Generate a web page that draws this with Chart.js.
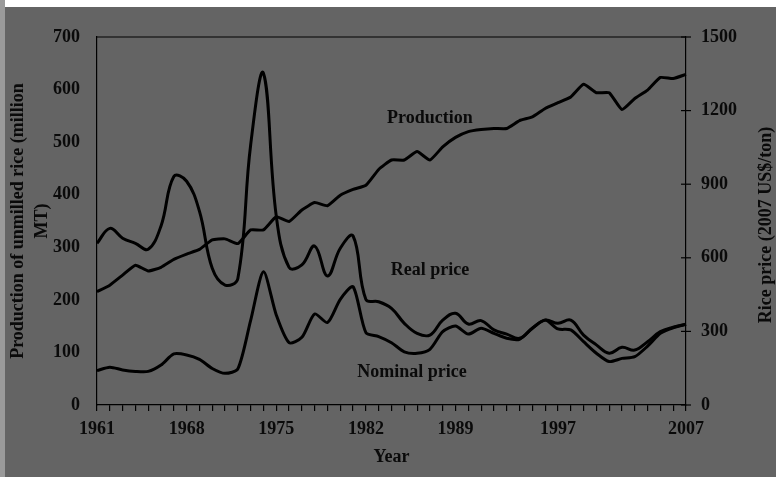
<!DOCTYPE html>
<html lang="en">
  <head>
    <meta charset="UTF-8" />
    <title>Rice production and price</title>
    <script src="https://cdn.jsdelivr.net/npm/chart.js"></script>
    <style>
      html, body {
        margin: 0;
        padding: 0;
        background: #fff;
        overflow: hidden;
      }
      .faixa {
        position: absolute;
        left: 0;
        top: 0;
        width: 5px;
        height: 477px;
        background: #9a9a9a;
      }
      .quadro {
        position: absolute;
        left: 5px;
        top: 7px;
        width: 771px;
        height: 470px;
        background: #646464;
      }
    </style>
  </head>
  <body>
    <div class="faixa"></div>
    <div class="quadro">
      <canvas id="grafico" width="771" height="470"></canvas>
    </div>

    <script>
      // dados
      const anos = [
        "1961", "1962", "1963", "1964", "1965", "1966", "1967", "1968", "1969", "1970",
        "1971", "1972", "1973", "1974", "1975", "1976", "1977", "1978", "1979", "1980",
        "1981", "1982", "1983", "1984", "1985", "1986", "1987", "1988", "1989", "1990",
        "1991", "1992", "1993", "1994", "1995", "1996", "1997", "1998", "1999", "2000",
        "2001", "2002", "2003", "2004", "2005", "2006", "2007",
      ];
      const anosVisiveis = ["1961", "1968", "1975", "1982", "1989", "1997", "2007"];

      // milhoes de toneladas (eixo esquerdo)
      const producao = [
        215.5, 228, 247, 266, 255, 262, 277, 287, 296, 314,
        316, 307, 333, 333, 358, 349, 371, 385, 379, 399,
        410, 418, 448, 466, 466, 482, 466, 491, 509, 520,
        524, 526, 526, 541, 548, 564, 575, 586, 610, 594,
        594, 562, 583, 599, 623, 621, 629,
      ];
      // US$/t de 2007 (eixo direito)
      const precoReal = [
        659, 720, 680, 659, 635, 730, 931, 912, 790, 557,
        489, 516, 1060, 1352, 770, 561, 571, 648, 526, 639,
        689, 430, 421, 394, 333, 292, 285, 346, 374, 330,
        344, 306, 289, 272, 313, 346, 333, 346, 285, 245,
        211, 235, 224, 258, 299, 317, 329,
      ];
      const precoNominal = [
        140, 154, 143, 137, 137, 163, 208, 204, 186, 149,
        129, 147, 345, 543, 367, 254, 276, 371, 336, 431,
        482, 295, 279, 254, 217, 211, 227, 299, 322, 289,
        313, 292, 272, 268, 313, 346, 310, 306, 258, 211,
        177, 190, 197, 240, 292, 315, 329,
      ];
      const ticksEsquerda = [0, 100, 200, 300, 400, 500, 600, 700];
      const ticksDireita = [0, 300, 600, 900, 1200, 1500];

      // rotulos dentro do grafico: [texto, indice do ano, valor no eixo esquerdo]
      const rotulos = [
        ["Production", 26, 546],
        ["Real price", 26, 257],
        ["Nominal price", 24.6, 63],
      ];
      const tituloDireita = "Rice price (2007 US$/ton)";

      const fonte = "'Liberation Serif', 'Times New Roman', serif";
      const corTexto = "#0a0a0a";
      const tamanho = 18;

      const molduraPlugin = {
        id: "moldura",
        afterDraw(chart) {
          const ctx = chart.ctx;
          const area = chart.chartArea;
          const y1 = chart.scales.y1;
          ctx.save();
          ctx.strokeStyle = "#000";
          ctx.lineWidth = 1.2;
          // linha de cima
          ctx.beginPath();
          ctx.moveTo(area.left, area.top);
          ctx.lineTo(area.right, area.top);
          ctx.stroke();
          // tracos do eixo direito
          ticksDireita.forEach((v) => {
            const y = y1.getPixelForValue(v);
            ctx.beginPath();
            ctx.moveTo(area.right - 5, y);
            ctx.lineTo(area.right + 5, y);
            ctx.stroke();
          });
          // rotulos das series
          ctx.fillStyle = corTexto;
          ctx.font = "bold " + tamanho + "px " + fonte;
          ctx.textAlign = "center";
          ctx.textBaseline = "middle";
          rotulos.forEach(([texto, i, v]) => {
            ctx.fillText(
              texto,
              chart.scales.x.getPixelForValue(i),
              chart.scales.y.getPixelForValue(v)
            );
          });
          // titulo do eixo direito, lido de baixo para cima
          ctx.translate(y1.right - 10, (area.top + area.bottom) / 2 + 4);
          ctx.rotate(-Math.PI / 2);
          ctx.fillText(tituloDireita, 0, 0);
          ctx.restore();
        },
      };

      const ctx = document.getElementById("grafico").getContext("2d");

      new Chart(ctx, {
        type: "line",
        data: {
          labels: anos,
          datasets: [
            {
              label: "Production",
              data: producao,
              yAxisID: "y",
              borderColor: "#000",
              borderWidth: 3,
              pointRadius: 0,
              tension: 0.15,
            },
            {
              label: "Real price",
              data: precoReal,
              yAxisID: "y1",
              borderColor: "#000",
              borderWidth: 3,
              pointRadius: 0,
              tension: 0.4,
            },
            {
              label: "Nominal price",
              data: precoNominal,
              yAxisID: "y1",
              borderColor: "#000",
              borderWidth: 3,
              pointRadius: 0,
              tension: 0.25,
            },
          ],
        },
        options: {
          responsive: false,
          animation: false,
          layout: { padding: { top: 30, left: 0, right: 0, bottom: 0 } },
          plugins: {
            legend: { display: false },
            tooltip: { enabled: false },
          },
          scales: {
            x: {
              type: "category",
              offset: false,
              afterFit(scale) {
                scale.height = 72;
              },
              border: { color: "#000", width: 1.2 },
              grid: {
                drawOnChartArea: false,
                drawTicks: true,
                tickLength: 6,
                color: "#000",
                lineWidth: 1.2,
              },
              ticks: {
                autoSkip: false,
                maxRotation: 0,
                padding: 8,
                color: corTexto,
                font: { family: fonte, size: tamanho, weight: "bold" },
                callback: function (valor) {
                  const ano = anos[valor];
                  return anosVisiveis.includes(ano) ? ano : "";
                },
              },
              title: {
                display: true,
                text: "Year",
                color: corTexto,
                padding: { top: 0, bottom: 8 },
                font: { family: fonte, size: tamanho, weight: "bold", lineHeight: 1.35 },
              },
            },
            y: {
              position: "left",
              min: 0,
              max: 700,
              afterFit(scale) {
                scale.width = 92;
              },
              afterBuildTicks(scale) {
                scale.ticks = ticksEsquerda.map((v) => ({ value: v }));
              },
              border: { color: "#000", width: 1.2 },
              grid: { drawOnChartArea: false, drawTicks: false },
              ticks: {
                padding: 17,
                color: corTexto,
                font: { family: fonte, size: tamanho, weight: "bold" },
              },
              title: {
                display: true,
                text: ["Production of unmilled rice (million", "MT)"],
                color: corTexto,
                padding: { top: 1, bottom: 0 },
                font: { family: fonte, size: tamanho, weight: "bold", lineHeight: 1.35 },
              },
            },
            y1: {
              position: "right",
              min: 0,
              max: 1500,
              afterFit(scale) {
                scale.width = 90;
              },
              afterBuildTicks(scale) {
                scale.ticks = ticksDireita.map((v) => ({ value: v }));
              },
              border: { color: "#000", width: 1.2 },
              grid: { drawOnChartArea: false, drawTicks: false },
              ticks: {
                padding: 15,
                color: corTexto,
                font: { family: fonte, size: tamanho, weight: "bold" },
                callback: (v) => String(v),
              },
            },
          },
        },
        plugins: [molduraPlugin],
      });
    </script>
  </body>
</html>
